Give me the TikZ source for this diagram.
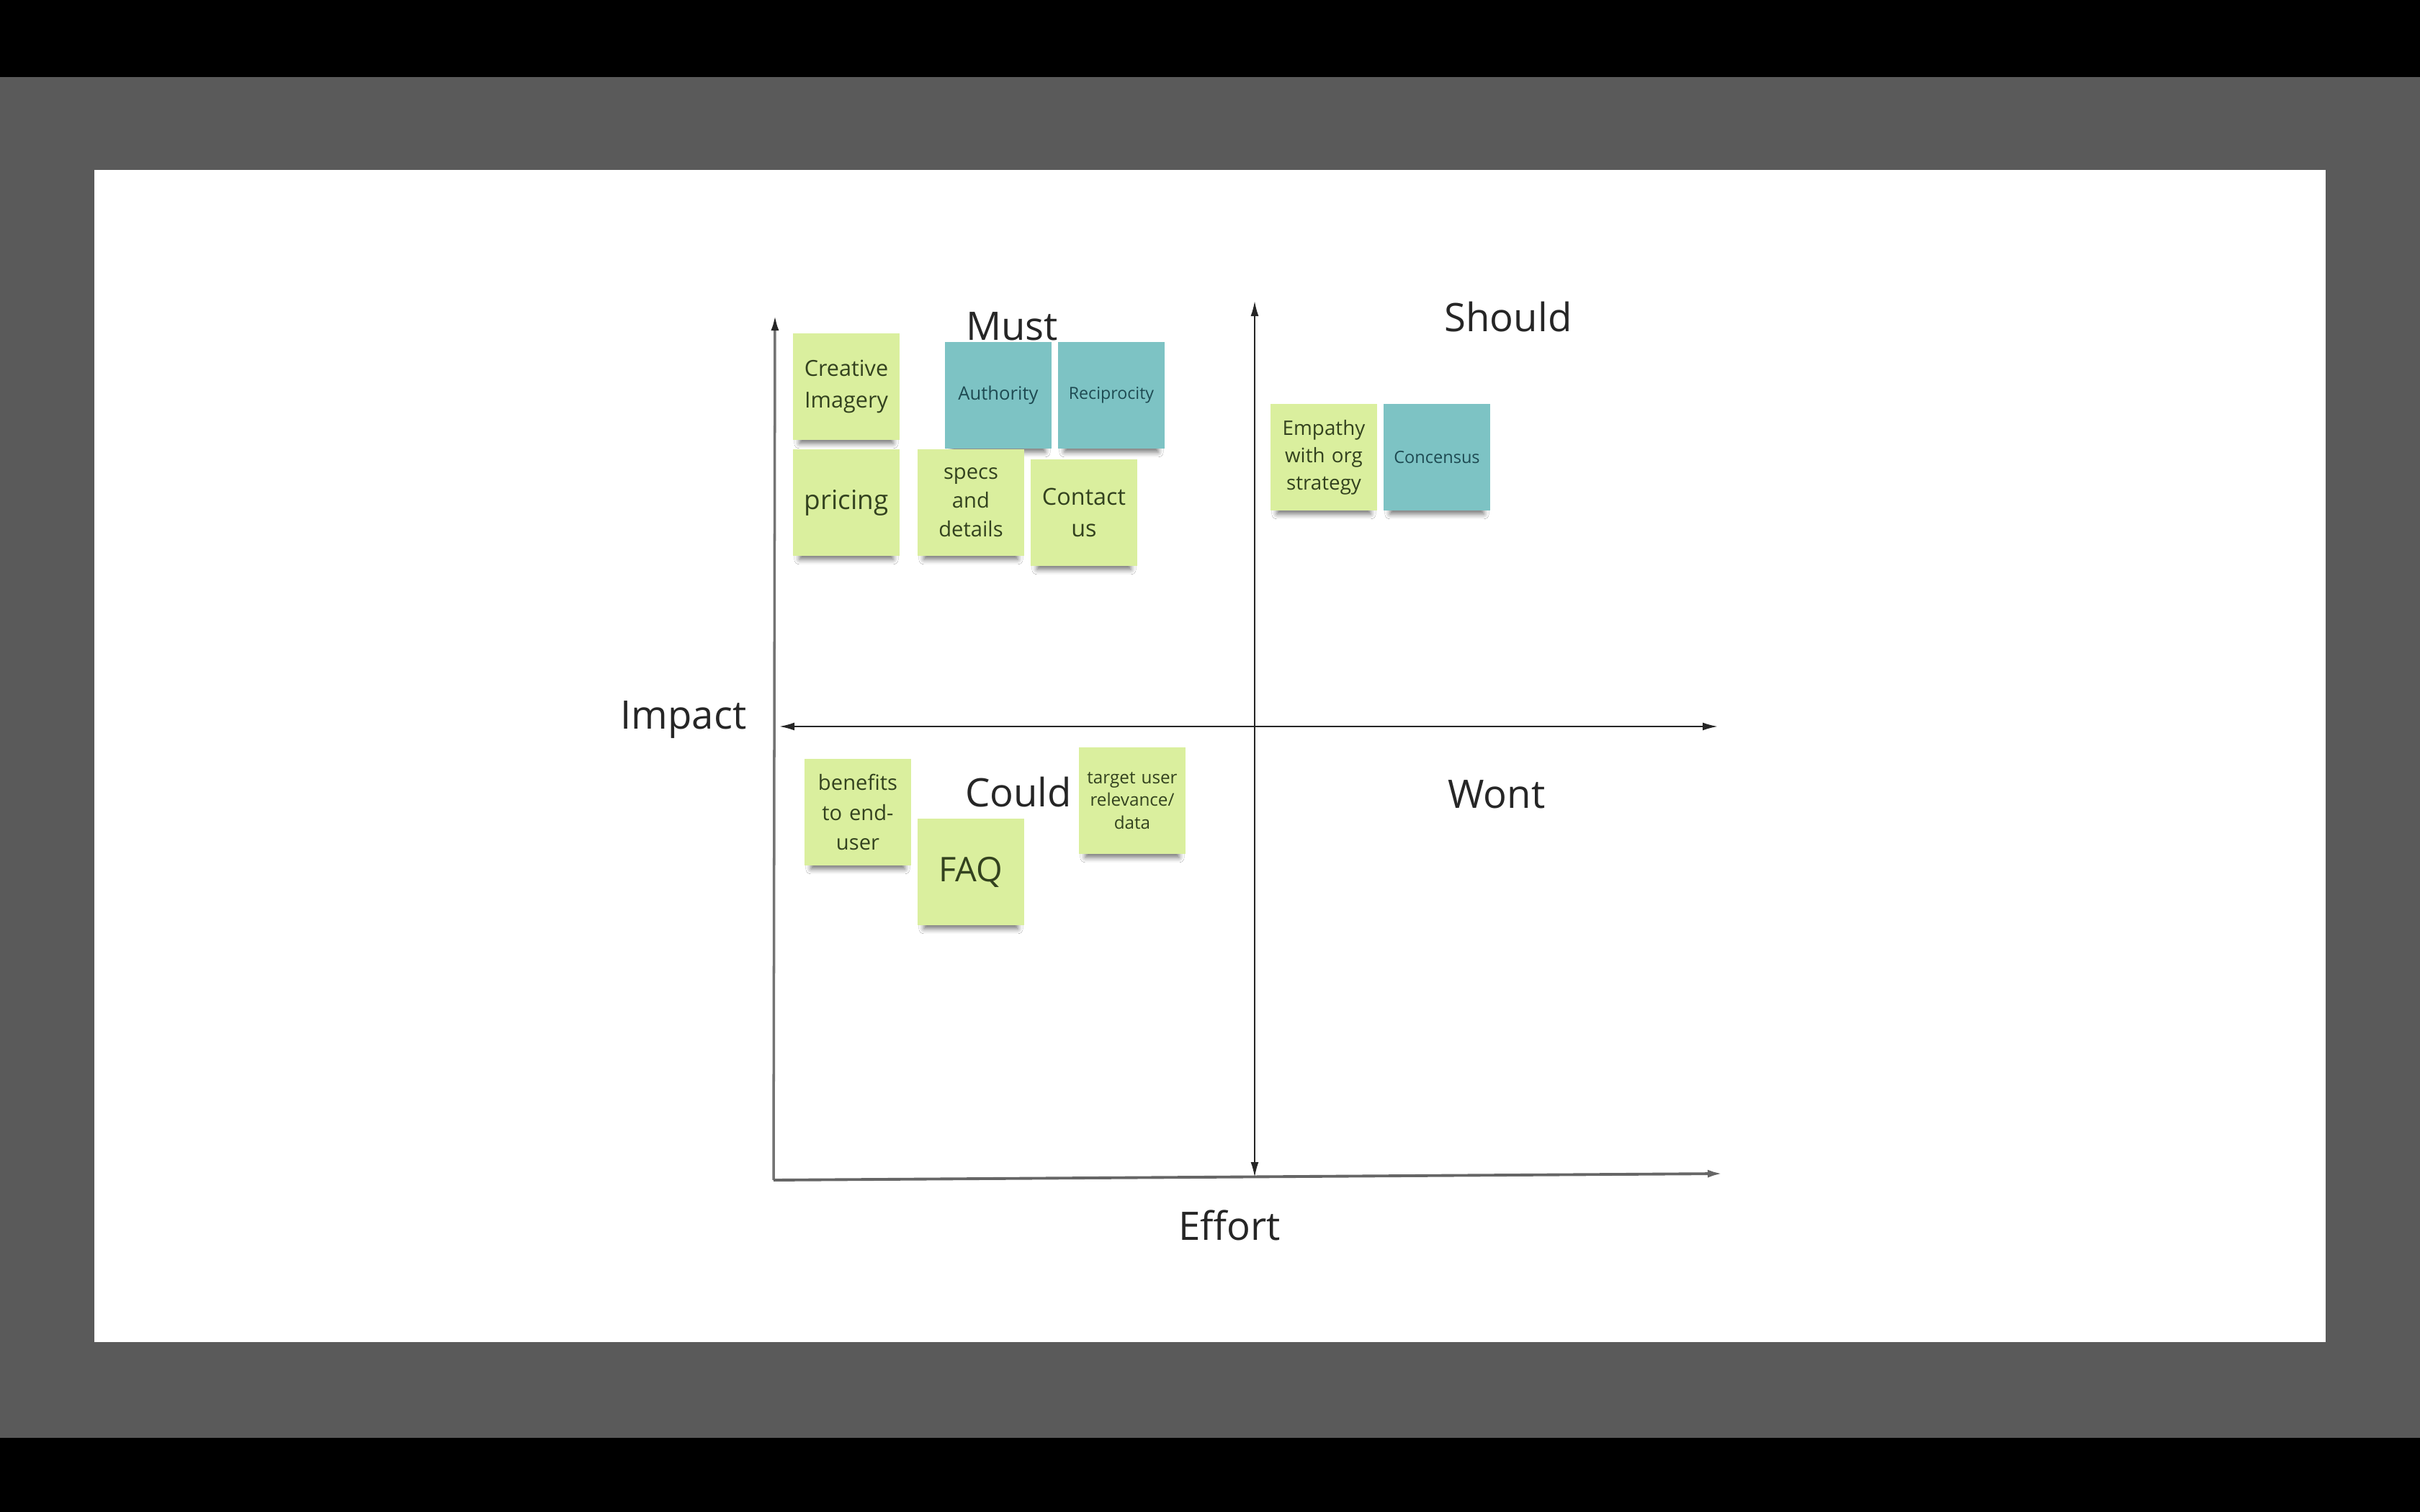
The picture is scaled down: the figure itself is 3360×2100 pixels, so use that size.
\documentclass[tikz,border=0pt]{standalone}
\usepackage{fontspec}
\setmainfont{Open Sans}
\usetikzlibrary{arrows.meta,shadows.blur}

\definecolor{notegreen}{HTML}{DAEF9E}
\definecolor{noteteal}{HTML}{7DC3C4}
\definecolor{greentext}{HTML}{33421F}
\definecolor{tealtext}{HTML}{1E4A52}
\definecolor{framegray}{HTML}{5A5A5A}

\tikzset{
  note/.style={minimum width=1.48cm, minimum height=1.47cm, inner sep=1pt,
    align=center, text width=1.38cm,
    blur shadow={shadow xshift=0pt, shadow yshift=-0.16cm, shadow scale=0.88,
      shadow opacity=55, shadow blur radius=0.08cm}},
  greennote/.style={note, fill=notegreen, text=greentext},
  tealnote/.style={note, fill=noteteal, text=tealtext},
  quadtext/.style={anchor=base, text=black!85, font=\fontsize{15.5}{18}\selectfont},
  axisline/.style={line width=0.6pt, black!85},
  tip/.tip={Latex[length=0.21cm, width=0.11cm]}
}

\begin{document}
\begin{tikzpicture}[x=0.01cm, y=-0.01cm]

\useasboundingbox (0,0) rectangle (3360,2100);

% Screen frame
\fill[black] (0,0) rectangle (3360,2100);
\fill[framegray] (0,107) rectangle (3360,1997);
\fill[white] (131,236) rectangle (3229,1864);

% Define axis end points
\coordinate (O) at (1074,1639);
\coordinate (Itop) at (1076,438);
\coordinate (Eend) at (2392,1630);
\coordinate (Mtop) at (1742,418);
\coordinate (Mbot) at (1742,1635);
\coordinate (Mleft) at (1082,1009);
\coordinate (Mright) at (2385,1009);

% Draw the axes
\draw[line width=1pt, black!55, -{Latex[length=0.21cm, width=0.11cm, black!85]}] (O) -- (Itop);
\draw[line width=1.1pt, black!60, -tip] (O) -- (Eend);
\draw[axisline, tip-tip] (Mtop) -- (Mbot);
\draw[axisline, tip-tip] (Mleft) -- (Mright);

% Quadrant and axis labels
\node[quadtext] (must) at (1405,472) {Must};
\node[quadtext] (should) at (2094,460) {Should};
\node[quadtext] (could) at (1414,1120) {Could};
\node[quadtext] (wont) at (2078,1122) {Wont};
\node[quadtext] (impact) at (949,1012) {Impact};
\node[quadtext] (effort) at (1707,1722) {Effort};

% Must notes
\node[greennote, font=\fontsize{8.7}{12.3}\selectfont] (imagery) at (1175,537) {Creative\\Imagery};
\node[tealnote, font=\fontsize{7.3}{10}\selectfont] (authority) at (1386,549) {Authority};
\node[tealnote, font=\fontsize{6.6}{9}\selectfont] (reciprocity) at (1543,549) {Reciprocity};
\node[greennote, font=\fontsize{10.5}{13}\selectfont] (pricing) at (1175,698) {pricing};
\node[greennote, font=\fontsize{8.3}{11.4}\selectfont] (specs) at (1348,698) {specs\\and\\details};
\node[greennote, font=\fontsize{9.2}{12.3}\selectfont] (contact) at (1505,712) {Contact\\us};

% Should notes
\node[greennote, font=\fontsize{7.9}{10.8}\selectfont] (empathy) at (1838,635) {Empathy\\with org\\strategy};
\node[tealnote, font=\fontsize{6.7}{9}\selectfont] (consensus) at (1995,635) {Concensus};

% Could notes
\node[greennote, font=\fontsize{8.3}{11.7}\selectfont] (benefits) at (1191,1128) {benefits\\to end-\\user};
\node[greennote, font=\fontsize{13.4}{16}\selectfont] (faq) at (1348,1211) {FAQ};
\node[greennote, font=\fontsize{6.9}{9}\selectfont] (target) at (1572,1112) {target user\\relevance/\\data};

\end{tikzpicture}
\end{document}
